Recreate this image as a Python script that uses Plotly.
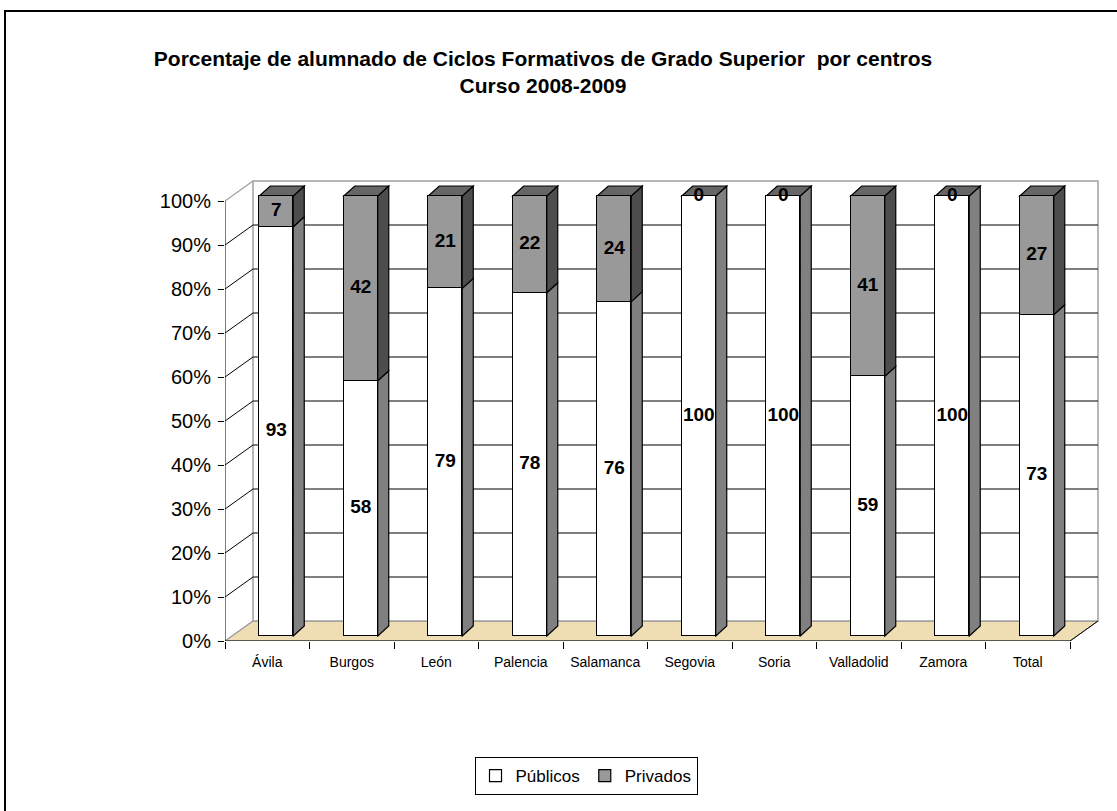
import plotly.graph_objects as go
import numpy as np

# ---- data ----
categories = ["Ávila", "Burgos", "León", "Palencia", "Salamanca", "Segovia", "Soria", "Valladolid", "Zamora", "Total"]
publicos = [93, 58, 79, 78, 76, 100, 100, 59, 100, 73]
privados = [7, 42, 21, 22, 24, 0, 0, 41, 0, 27]
y_ticks = [0, 10, 20, 30, 40, 50, 60, 70, 80, 90, 100]

# ---- style / geometry (pixel-based layout of an Excel 3D chart) ----
W, H = 1117, 811
PL, PR, PT, PB = 225, 1105, 170, 641          # plot area in pixels
PX_X = 84.5                                    # pixels per category
PX_Y = 4.40                                    # pixels per percent
x0 = -0.5
x1 = x0 + (PR - PL) / PX_X
front_shift = 5 / PX_Y                         # bars sit slightly behind the front axis
y0 = -front_shift
y1 = y0 + (PB - PT) / PX_Y
wall_dx = 28 / PX_X                            # depth of the walls
wall_dy = 20 / PX_Y
bar_off = 9 / PX_X                             # bar centre offset to the right (depth)
bar_w = 34 / PX_X
bar_dx = 11 / PX_X                             # bar depth
bar_dy = 10 / PX_Y

FONT = "Liberation Sans, Arial, sans-serif"
C_PUB, C_PUB_SIDE = "#FFFFFF", "#808080"
C_PRI, C_PRI_SIDE, C_PRI_TOP = "#999999", "#4D4D4D", "#666666"
C_FLOOR = "#EFDDB4"
C_WALL = "#A0A0A0"

n = len(categories)
xb = np.arange(n) + bar_off

fig = go.Figure()
fig.add_trace(go.Bar(x=xb, y=publicos, width=bar_w, name="Públicos",
                     marker=dict(color=C_PUB, line=dict(color="black", width=1.2)),
                     hoverinfo="skip"))
fig.add_trace(go.Bar(x=xb, y=privados, width=bar_w, name="Privados",
                     marker=dict(color=C_PRI, line=dict(color="black", width=1.2)),
                     hoverinfo="skip"))

# value labels
pub = np.array(publicos, dtype=float)
pri = np.array(privados, dtype=float)
lab_x = np.concatenate([xb, xb])
lab_y = np.concatenate([pub / 2, pub + pri / 2])
lab_t = [str(v) for v in publicos] + [str(v) for v in privados]
fig.add_trace(go.Scatter(x=lab_x, y=lab_y, text=lab_t, mode="text", showlegend=False,
                         textfont=dict(family=FONT, size=19, color="black"),
                         texttemplate="<b>%{text}</b>", hoverinfo="skip"))

# secondary axis only for the front percentage tick labels
fig.add_trace(go.Scatter(x=[None], y=[None], yaxis="y2", showlegend=False, hoverinfo="skip"))

shapes = []
def poly(pts, fill, line_color="black", width=1.0, layer="below"):
    d = "M " + " L ".join(f"{px},{py}" for px, py in pts) + " Z"
    return dict(type="path", path=d, xref="x", yref="y", fillcolor=fill,
                line=dict(color=line_color, width=width), layer=layer)

def seg(xa, ya, xb_, yb, color="black", width=1.0):
    return dict(type="line", x0=xa, y0=ya, x1=xb_, y1=yb, xref="x", yref="y",
                line=dict(color=color, width=width), layer="below")

xl_front, xr_front = -0.5, n - 0.5
# floor
shapes.append(poly([(xl_front, y0), (xr_front, y0), (xr_front + wall_dx, y0 + wall_dy),
                    (xl_front + wall_dx, y0 + wall_dy)], C_FLOOR, "#808080", 1))
# back wall
shapes.append(dict(type="rect", x0=xl_front + wall_dx, x1=xr_front + wall_dx,
                   y0=y0 + wall_dy, y1=y0 + wall_dy + 100, xref="x", yref="y",
                   fillcolor="white", line=dict(color=C_WALL, width=1.5), layer="below"))
# gridlines and left-wall diagonals
for v in y_ticks:
    yb_ = y0 + v + wall_dy
    if 0 < v < 100:
        shapes.append(seg(xl_front + wall_dx, yb_, xr_front + wall_dx, yb_, "black", 1))
        shapes.append(seg(xl_front, y0 + v, xl_front + wall_dx, yb_, "black", 1))
    else:
        shapes.append(seg(xl_front, y0 + v, xl_front + wall_dx, yb_, C_WALL, 1.2))
# floor right edge
shapes.append(seg(xr_front, y0, xr_front + wall_dx, y0 + wall_dy, "black", 1))
# front axes
shapes.append(seg(xl_front, y0, xl_front, y0 + 100, "black", 1))
shapes.append(seg(xl_front, y0, xr_front, y0, "black", 1))

# 3D faces of the bars
for i in range(n):
    xl = xb[i] - bar_w / 2
    xr = xb[i] + bar_w / 2
    segs = [(0, pub[i], C_PUB_SIDE), (pub[i], pub[i] + pri[i], C_PRI_SIDE)]
    for ya, yb_, col in segs:
        if yb_ > ya:
            shapes.append(poly([(xr, ya), (xr + bar_dx, ya + bar_dy), (xr + bar_dx, yb_ + bar_dy),
                                (xr, yb_)], col, "black", 1.2))
    top = pub[i] + pri[i]
    shapes.append(poly([(xl, top), (xl + bar_dx, top + bar_dy), (xr + bar_dx, top + bar_dy),
                        (xr, top)], C_PRI_TOP, "black", 1.2))

# outer chart border (pixel -> paper)
def ppx(px):
    return (px - PL) / (PR - PL)
def ppy(py):
    return (PB - py) / (PB - PT)
shapes.append(dict(type="rect", xref="paper", yref="paper",
                   x0=ppx(5), x1=ppx(1130), y0=ppy(11), y1=ppy(830),
                   line=dict(color="black", width=2), fillcolor="rgba(0,0,0,0)", layer="above"))

fig.update_layout(
    width=W, height=H,
    margin=dict(l=PL, r=W - PR, t=PT, b=H - PB, pad=0),
    paper_bgcolor="white", plot_bgcolor="white",
    barmode="stack", bargap=0,
    font=dict(family=FONT, color="black"),
    title=dict(text="<b>Porcentaje de alumnado de Ciclos Formativos de Grado Superior  por centros<br>Curso 2008-2009</b>",
               x=543 / W, xanchor="center", xref="container",
               y=1 - 66 / H, yanchor="top", yref="container",
               font=dict(family=FONT, size=21, color="black")),
    xaxis=dict(range=[x0, x1], tickmode="array", tickvals=list(range(n)), ticktext=categories,
               ticks="", showgrid=False, zeroline=False, showline=False,
               tickfont=dict(family=FONT, size=14, color="black"), ticklabelstandoff=11,
               minor=dict(tickmode="array", tickvals=[k - 0.5 for k in range(n + 1)],
                          ticks="outside", ticklen=7, tickcolor="black", tickwidth=1, showgrid=False)),
    yaxis=dict(range=[y0, y1], visible=False),
    yaxis2=dict(range=[0, y1 - y0], overlaying="y", side="left", anchor="x",
                tickmode="array", tickvals=y_ticks, ticktext=[f"{v}%" for v in y_ticks],
                ticks="outside", ticklen=6, tickcolor="black", tickwidth=1,
                showgrid=False, zeroline=False, showline=False,
                tickfont=dict(family=FONT, size=20, color="black"), ticklabelstandoff=3),
    legend=dict(orientation="h", x=ppx(586), xanchor="center", y=ppy(757), yanchor="top",
                bordercolor="black", borderwidth=1, bgcolor="white",
                font=dict(family=FONT, size=17, color="black"), traceorder="normal",
                itemwidth=30),
    shapes=shapes,
)

fig.write_html("out.html", config={"displayModeBar": False},
               post_script="document.body.style.margin='0';")
